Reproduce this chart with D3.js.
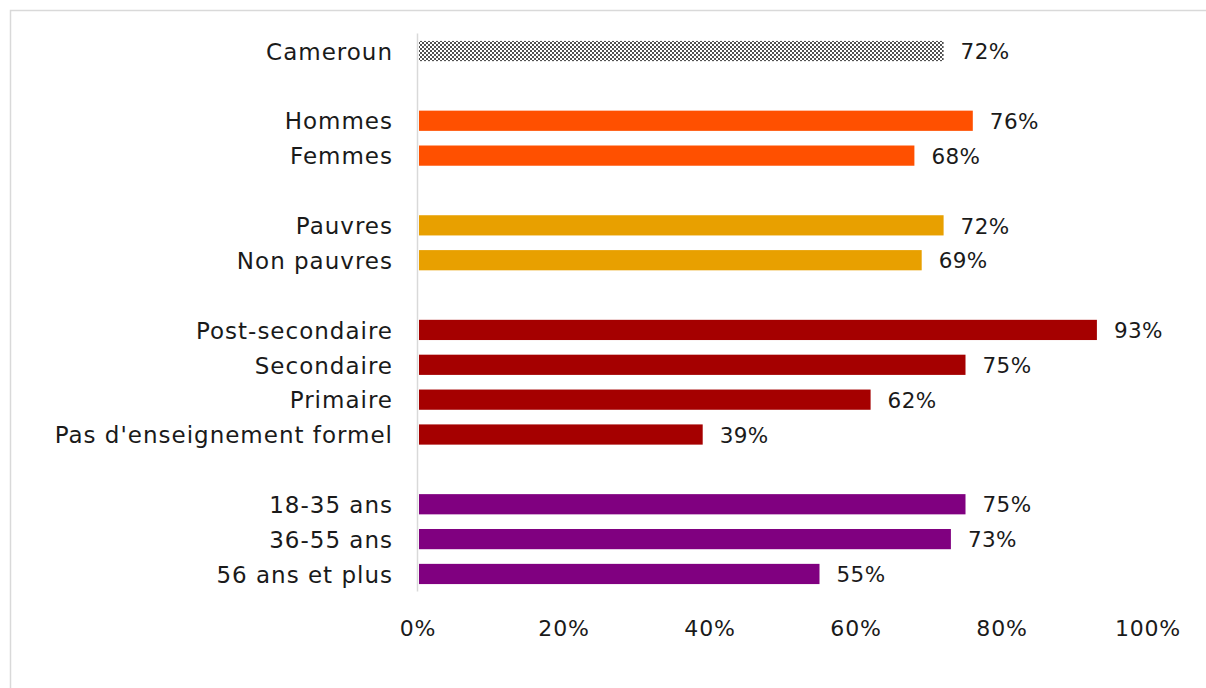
<!DOCTYPE html>
<html>
<head>
<meta charset="utf-8">
<script src="https://cdn.jsdelivr.net/npm/d3@7"></script>
<style>
  html, body { margin: 0; padding: 0; background: #fff; }
  svg { display: block; }
  text { font-family: "DejaVu Sans", "Noto Sans", sans-serif; fill: #1a1a1a; }
</style>
</head>
<body>
<div id="chart"></div>
<script>
// Rows, top to bottom; empty strings are spacer rows between groups
const categories = ["Cameroun", "", "Hommes", "Femmes", " ", "Pauvres", "Non pauvres", "  ",
  "Post-secondaire", "Secondaire", "Primaire", "Pas d'enseignement formel", "   ",
  "18-35 ans ", "36-55 ans", "56 ans et plus"];
const values = [72, null, 76, 68, null, 72, 69, null, 93, 75, 62, 39, null, 75, 73, 55];
const groups = ["total", null, "sexe", "sexe", null, "pauvrete", "pauvrete", null,
  "education", "education", "education", "education", null, "age", "age", "age"];
const tickValues = [0, 20, 40, 60, 80, 100];

const groupColors = { sexe: "#FF5000", pauvrete: "#E8A000", education: "#A50000", age: "#800080" };

const W = 1206, H = 688;
const svg = d3.select("#chart").append("svg").attr("width", W).attr("height", H);

// checkered fill for the national total
const defs = svg.append("defs");
const pat = defs.append("pattern").attr("id", "checker")
  .attr("patternUnits", "userSpaceOnUse").attr("width", 4).attr("height", 4);
pat.append("rect").attr("width", 4).attr("height", 4).attr("fill", "#ffffff");
pat.append("rect").attr("width", 2).attr("height", 2).attr("fill", "#505050");
pat.append("rect").attr("x", 2).attr("y", 2).attr("width", 2).attr("height", 2).attr("fill", "#505050");

// outer frame
svg.append("path").attr("d", `M10.5,${H} V10.5 H${W}`)
  .attr("fill", "none").attr("stroke", "#d9d9d9").attr("stroke-width", 1.5);

const x = d3.scaleLinear().domain([0, 100]).range([418, 1148]);
const y = d3.scaleBand().domain(categories).range([33.6, 591.4]).paddingInner(0.42).paddingOuter(0.21);

// category axis line
svg.append("line").attr("x1", 417.5).attr("x2", 417.5).attr("y1", 33.6).attr("y2", 591.4)
  .attr("stroke", "#d9d9d9").attr("stroke-width", 1.5);

const rows = categories.map((c, i) => ({ c, v: values[i], g: groups[i] })).filter(d => d.v !== null);

svg.append("g").selectAll("rect").data(rows).join("rect")
  .attr("x", x(0) + 1)
  .attr("y", d => y(d.c))
  .attr("width", d => x(d.v) - x(0) - 1)
  .attr("height", y.bandwidth())
  .attr("fill", d => d.g === "total" ? "url(#checker)" : groupColors[d.g]);

// value labels
svg.append("g").selectAll("text").data(rows).join("text")
  .attr("x", d => x(d.v) + 17)
  .attr("y", d => y(d.c) + y.bandwidth() / 2)
  .attr("dy", "0.38em")
  .attr("font-size", 21.5)
  .attr("letter-spacing", 0.4)
  .text(d => d.v + "%");

// category labels
svg.append("g").selectAll("text").data(rows).join("text")
  .attr("x", 393)
  .attr("y", d => y(d.c) + y.bandwidth() / 2)
  .attr("dy", "0.38em")
  .attr("text-anchor", "end")
  .attr("font-size", 23)
  .attr("letter-spacing", 1)
  .text(d => d.c.trim());

// value axis labels
svg.append("g").selectAll("text").data(tickValues).join("text")
  .attr("x", d => x(d))
  .attr("y", 628)
  .attr("dy", "0.38em")
  .attr("text-anchor", "middle")
  .attr("font-size", 22)
  .attr("letter-spacing", 0.8)
  .text(d => d + "%");
</script>
</body>
</html>
